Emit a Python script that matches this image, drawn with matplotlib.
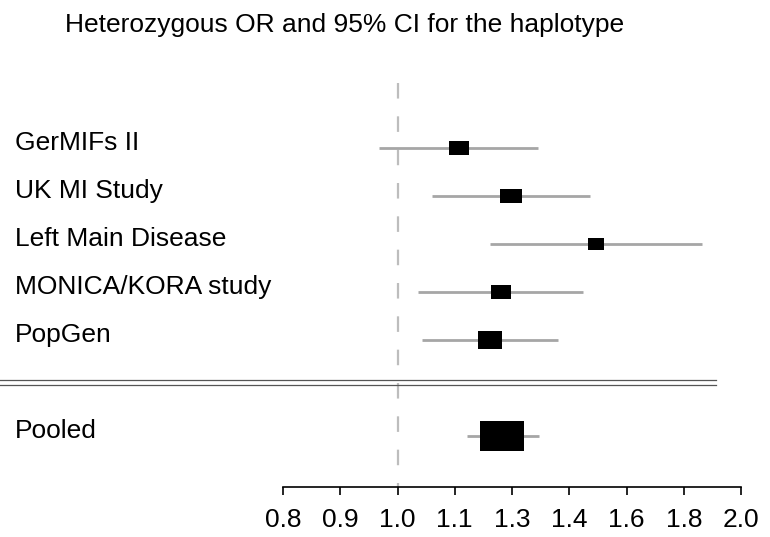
import numpy as np
import matplotlib.pyplot as plt
from matplotlib.path import Path

plt.rcParams['font.family'] = ['Liberation Sans', 'DejaVu Sans']

studies = ["GerMIFs II", "UK MI Study", "Left Main Disease", "MONICA/KORA study", "PopGen"]
or_est = [1.130, 1.254, 1.487, 1.229, 1.202]
ci_lo = [0.964, 1.072, 1.203, 1.042, 1.049]
ci_hi = [1.324, 1.469, 1.838, 1.449, 1.378]
box_size = [15.1, 15.3, 12.0, 14.9, 17.8]   # relative weight of each study

pooled_label = "Pooled"
pooled_est = 1.233
pooled_lo = 1.148
pooled_hi = 1.328
pooled_size = 32.2

tick_labels = ["0.8", "0.9", "1.0", "1.1", "1.3", "1.4", "1.6", "1.8", "2.0"]

# box shape: wider than tall, like in the original plot
box = Path([(-0.725, -0.5), (0.725, -0.5), (0.725, 0.5), (-0.725, 0.5), (-0.725, -0.5)],
           [Path.MOVETO, Path.LINETO, Path.LINETO, Path.LINETO, Path.CLOSEPOLY])

fig = plt.figure(figsize=(7.7, 5.37), dpi=100)
ax = fig.add_axes([283/770, 1-487/537, 458/770, (487-76)/537])
ax.set_xscale('log')
ax.set_xlim(0.795, 1.988)
ax.set_ylim(7.06, -1.5)

rows = np.arange(len(studies))
pooled_row = 6.0
lab_x = -0.585
lab_dy = -0.1

ax.plot([1.0, 1.0], [-1.35, 7.06], color='#bdbdbd', lw=1.6, ls=(0, (7, 8)), zorder=1)

for i in rows:
    ax.plot([ci_lo[i], ci_hi[i]], [i, i], color='#a6a6a6', lw=2.0, zorder=2, solid_capstyle='butt')
    ax.plot(or_est[i], i, marker=box, ms=box_size[i], color='black', mew=0, zorder=3)
    ax.text(lab_x, i + lab_dy, studies[i], transform=ax.get_yaxis_transform(), fontsize=19,
            va='center', ha='left')

ax.plot([pooled_lo, pooled_hi], [pooled_row, pooled_row], color='#a6a6a6', lw=2.0, zorder=2,
        solid_capstyle='butt')
ax.plot(pooled_est, pooled_row, marker=box, ms=pooled_size, color='black', mew=0, zorder=3)
ax.text(lab_x, pooled_row + lab_dy, pooled_label, transform=ax.get_yaxis_transform(), fontsize=19,
        va='center', ha='left')

# double separator line
for yy in [4.83, 4.94]:
    ax.plot([-0.618, 0.945], [yy, yy], transform=ax.get_yaxis_transform(), color='#555555',
            lw=0.9, clip_on=False)

ticks = np.geomspace(0.795, 1.988, len(tick_labels))
ax.set_xticks(ticks)
ax.set_xticklabels(tick_labels)
ax.xaxis.set_minor_locator(plt.NullLocator())
ax.tick_params(axis='x', direction='out', length=6, width=1.2, pad=9, labelsize=19)
ax.set_yticks([])
for s in ['top', 'left', 'right']:
    ax.spines[s].set_visible(False)
ax.spines['bottom'].set_linewidth(1.2)

fig.text(65/770, 1-25/537, "Heterozygous OR and 95% CI for the haplotype", fontsize=19,
         va='center', ha='left')

fig.savefig("out.png", dpi=100)
